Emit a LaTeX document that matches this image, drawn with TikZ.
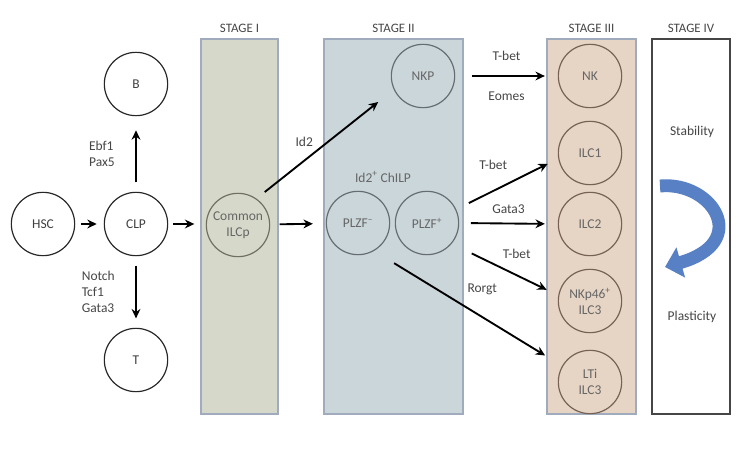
\documentclass[tikz,border=0pt]{standalone}
\usepackage{fontspec}
\setmainfont{Carlito}
\usepackage{tikz}
\usetikzlibrary{arrows.meta, positioning, calc}
\definecolor{stageonefill}{RGB}{214, 216, 201}
\definecolor{stagetwofill}{RGB}{203, 214, 218}
\definecolor{stagethreefill}{RGB}{230, 212, 196}
\definecolor{stageedge}{RGB}{160, 172, 190}
\definecolor{stagefouredge}{RGB}{70, 70, 70}
\definecolor{labelgray}{RGB}{70, 70, 70}
\definecolor{olivecell}{RGB}{112, 112, 96}
\definecolor{slatecell}{RGB}{100, 110, 114}
\definecolor{browncell}{RGB}{118, 98, 84}
\definecolor{swirlblue}{RGB}{88, 128, 196}
\tikzstyle{stage} = [rectangle, draw=stageedge, line width=1.4pt, minimum height=11.25cm, inner sep=0pt]
\tikzstyle{stagelabel} = [font=\fontsize{11}{12}\selectfont, text=labelgray]
\tikzstyle{cell} = [circle, draw=black!85, line width=1pt, minimum size=1.9cm, inner sep=0pt, align=center, text=black!75, font=\fontsize{11.5}{13.5}\selectfont]
\tikzstyle{factor} = [font=\fontsize{11.5}{13.5}\selectfont, text=labelgray, align=left]
\tikzstyle{arrow} = [-{Stealth[length=8pt, width=7.5pt]}, line width=1.6pt]
\tikzstyle{swirl} = [-{Triangle[length=14pt, width=26pt]}, line width=11pt, draw=swirlblue]

\begin{document}
\begin{tikzpicture}[x=0.03cm, y=-0.03cm]
    \useasboundingbox (0, 0) rectangle (756, 455);

    % Stages
    \node[stage, fill=stageonefill, minimum width=2.31cm, label={[stagelabel, label distance=1pt]above:STAGE I}] (stage1) at (239.5, 226.5) {};
    \node[stage, fill=stagetwofill, minimum width=4.17cm, label={[stagelabel, label distance=1pt]above:STAGE II}] (stage2) at (393.5, 226.5) {};
    \node[stage, fill=stagethreefill, minimum width=2.67cm, label={[stagelabel, label distance=1pt]above:STAGE III}] (stage3) at (591.5, 226.5) {};
    \node[stage, draw=stagefouredge, line width=1.3pt, fill=white, minimum width=2.34cm, label={[stagelabel, label distance=1pt]above:STAGE IV}] (stage4) at (691, 226.5) {};

    % Bone marrow progenitors
    \node[cell] (hsc) at (43, 224) {HSC};
    \node[cell] (clp) at (136, 224) {CLP};
    \node[cell] (b) at (136, 84) {B};
    \node[cell] (t) at (136, 360) {T};

    % Stage I
    \node[cell, draw=olivecell, text=black!60] (common) at (238, 225) {Common\\ILCp};

    % Stage II
    \node[cell, draw=slatecell, text=black!60] (nkp) at (423, 76) {NKP};
    \node[cell, draw=slatecell, text=black!60] (plzfm) at (358, 223) {PLZF\textsuperscript{--}};
    \node[cell, draw=slatecell, text=black!60] (plzfp) at (427, 223) {PLZF\textsuperscript{+}};
    \node[factor, text=black!60] (chilp) at (383, 177) {Id2\textsuperscript{+} ChILP};

    % Stage III
    \node[cell, draw=browncell, text=black!60] (nk) at (590, 76) {NK};
    \node[cell, draw=browncell, text=black!60] (ilc1) at (590, 153) {ILC1};
    \node[cell, draw=browncell, text=black!60] (ilc2) at (590, 224) {ILC2};
    \node[cell, draw=browncell, text=black!60] (ilc3) at (590, 301) {NKp46\textsuperscript{+}\\ILC3};
    \node[cell, draw=browncell, text=black!60] (lti) at (590, 382) {LTi\\ILC3};

    % Stage IV
    \node[factor] (stability) at (692, 132) {Stability};
    \node[factor] (plasticity) at (692, 317) {Plasticity};
    \coordinate (swirltail) at (660, 186);
    \coordinate (swirlhead) at (665, 267);
    \draw[swirl] (swirltail) .. controls (712, 181) and (752, 242) .. (swirlhead);

    % Arrows
    \draw[arrow, shorten <=5, shorten >=6] (hsc) -- (clp);
    \draw[arrow, shorten <=8, shorten >=12] (clp) -- (b) node[midway, left=14pt, factor] {Ebf1\\Pax5};
    \draw[arrow, shorten <=8, shorten >=8] (clp) -- (t) node[midway, left=14pt, factor] {Notch\\Tcf1\\Gata3};
    \draw[arrow, shorten <=4, shorten >=5] (clp.east) -- (clp -| stage1.west);
    \draw[arrow, shorten <=8, shorten >=11] (common) -- (plzfm);
    \draw[arrow, shorten <=9, shorten >=17] (common.55) -- (nkp.205) node[pos=0.44, above left=-1pt, factor] {Id2};
    \draw[arrow, shorten <=14, shorten >=11] (nkp.east) -- (nk.west)
        node[midway, above=9pt, factor] {T-bet}
        node[midway, below=9pt, factor] {Eomes};
    \draw[arrow, shorten <=12, shorten >=10] (plzfp.25) -- (ilc1.190) node[midway, above=8pt, xshift=-12pt, factor] {T-bet};
    \draw[arrow, shorten <=10, shorten >=11] (plzfp.east) -- (ilc2.west) node[midway, above=4pt, factor] {Gata3};
    \draw[arrow, shorten <=19, shorten >=11] (plzfp.-40) -- (ilc3.170) node[midway, above=5pt, xshift=10pt, factor] {T-bet};
    \draw[arrow, shorten <=20, shorten >=17] (plzfm.-60) -- (lti.150) node[pos=0.6, above=17pt, xshift=-4pt, factor] {Rorgt};
\end{tikzpicture}
\end{document}
